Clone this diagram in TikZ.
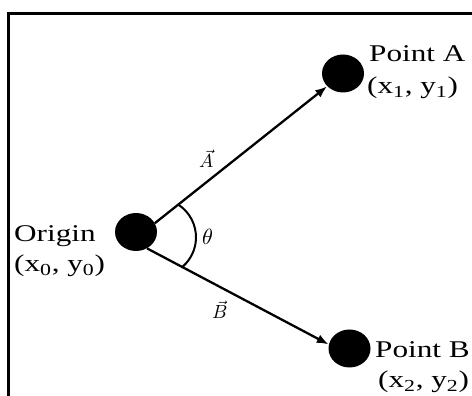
\documentclass[tikz,border=0pt]{standalone}
\usepackage{graphicx}
\usepackage{fontspec}
\setmainfont{Liberation Serif}
\usetikzlibrary{shapes.geometric,arrows.meta}
\newcommand\widetext[1]{\scalebox{1.3}[1]{#1}}
\newcommand\bigmath[1]{\scalebox{1.9}{$#1$}}
\begin{document}
\begin{tikzpicture}[x=1pt,y=1pt,
  dot/.style={ellipse,fill=black,draw=none,minimum width=42pt,minimum height=38pt,inner sep=0pt},
  lbl/.style={anchor=base west,inner sep=0pt,font=\fontsize{24}{28}\selectfont},
  mlbl/.style={anchor=base west,inner sep=0pt},
  vecline/.style={line width=2.3pt,-{Latex[length=12pt,width=9pt]}},
  frameline/.style={line width=2.2pt}
]
\useasboundingbox (0,0) rectangle (472,396);
\draw[frameline] (8.5,-5) -- (8.5,382.5) -- (480,382.5);

\node[dot] (o) at (136,164) {};
\node[dot] (a) at (343,322.5) {};
\node[dot] (b) at (349.5,47.5) {};

\draw[vecline] (o.25) -- (a.219);
\draw[vecline] (o.304) -- (b.169);

\draw[line width=2pt] (157,158.7) ++(57.7:39) arc[start angle=57.7,end angle=-48.4,radius=39];

\node[lbl] (pa) at (369,334) {\widetext{Point A}};
\node[lbl] (pac) at (367,302) {\widetext{(x\textsubscript{1}, y\textsubscript{1})}};
\node[lbl] (og) at (14,154) {\widetext{Origin}};
\node[lbl] (ogc) at (14,124) {\widetext{(x\textsubscript{0}, y\textsubscript{0})}};
\node[lbl] (pb) at (375,38) {\widetext{Point B}};
\node[lbl] (pbc) at (378,8) {\widetext{(x\textsubscript{2}, y\textsubscript{2})}};

\node[mlbl] (va) at (199,228) {\bigmath{\vec{A}}};
\node[mlbl] (vb) at (212,77) {\bigmath{\vec{B}}};
\node[inner sep=0pt] (th) at (207.5,159) {\scalebox{2.2}{$\theta$}};
\end{tikzpicture}
\end{document}
